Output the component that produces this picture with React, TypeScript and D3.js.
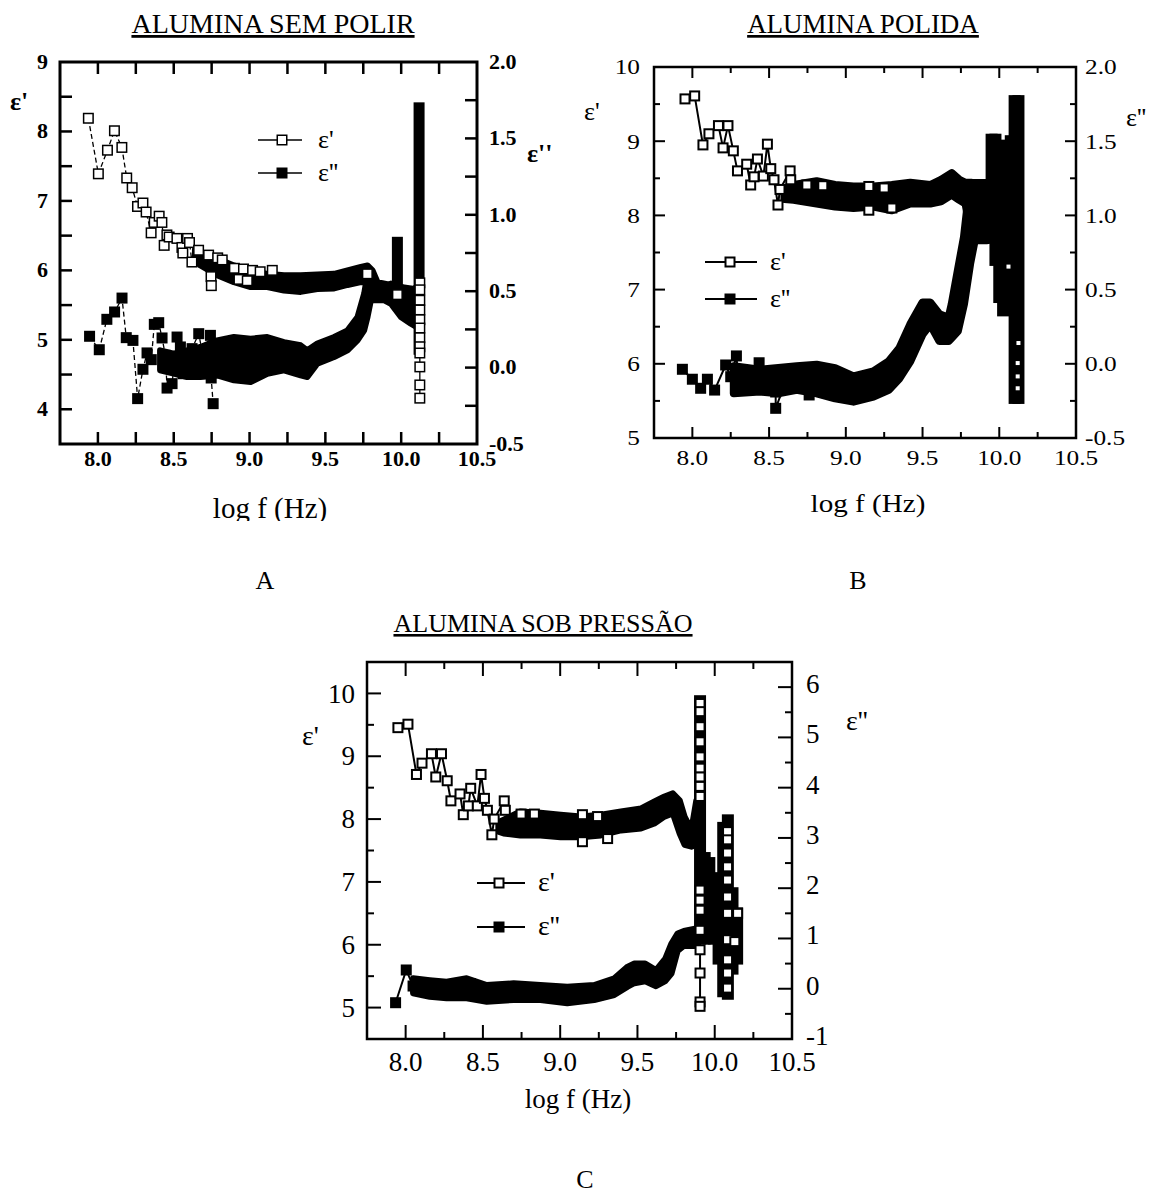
import React from "react";
import * as d3 from "d3";

type Pt = [number, number];
type Span = [number, number, number];

const FONT = "'Liberation Serif', 'Times New Roman', Times, serif";

// ---------------- shared axis values ----------------
const xTickValues = [8.0, 8.5, 9.0, 9.5, 10.0, 10.5];
const xTickLabels = ["8.0", "8.5", "9.0", "9.5", "10.0", "10.5"];

const A_leftValues = [4, 5, 6, 7, 8, 9];
const A_leftLabels = ["4", "5", "6", "7", "8", "9"];
const AB_rightValues = [-0.5, 0, 0.5, 1.0, 1.5, 2.0];
const AB_rightLabels = ["-0.5", "0.0", "0.5", "1.0", "1.5", "2.0"];
const BC_leftValues = [5, 6, 7, 8, 9, 10];
const BC_leftLabels = ["5", "6", "7", "8", "9", "10"];
const C_rightValues = [-1, 0, 1, 2, 3, 4, 5, 6];
const C_rightLabels = ["-1", "0", "1", "2", "3", "4", "5", "6"];

// ---------------- Panel A : ALUMINA SEM POLIR ----------------
const A_epsP_points: Pt[] = [
  [7.937, 8.19], [8.003, 7.39], [8.063, 7.73], [8.109, 8.01], [8.158, 7.77], [8.19, 7.33],
  [8.226, 7.19], [8.261, 6.92], [8.297, 6.97], [8.318, 6.84], [8.351, 6.54], [8.371, 6.69],
  [8.404, 6.78], [8.422, 6.69], [8.437, 6.36], [8.455, 6.51], [8.47, 6.48], [8.521, 6.46],
  [8.554, 6.33], [8.56, 6.25], [8.591, 6.46], [8.604, 6.4], [8.62, 6.12], [8.664, 6.29],
];
const A_epsP_scatter: Pt[] = [
  [8.73, 6.22], [8.746, 5.91], [8.748, 5.78], [8.79, 6.18], [8.82, 6.15], [8.9, 6.03],
  [8.93, 5.87], [8.96, 6.02], [8.985, 5.85], [9.02, 6.0], [9.07, 5.98], [9.15, 6.0],
  [9.777, 5.95], [9.975, 5.65],
];
const A_epsP_band: Span[] = [
  [8.64, 6.14, 6.3], [8.676, 6.07, 6.26], [8.786, 5.93, 6.17], [8.897, 5.83, 6.07],
  [9.007, 5.76, 6.0], [9.117, 5.76, 5.95], [9.227, 5.71, 5.93], [9.337, 5.69, 5.93],
  [9.447, 5.73, 5.94], [9.558, 5.74, 5.95], [9.646, 5.79, 6.0], [9.734, 5.83, 6.05],
  [9.778, 5.83, 6.07], [9.811, 5.74, 6.0], [9.844, 5.62, 5.83], [9.932, 5.6, 5.79],
  [9.998, 5.57, 5.76], [10.064, 5.5, 5.74], [10.1, 5.5, 5.72],
];
const A_epsP_column: Pt[] = [
  [10.123, 5.82], [10.123, 5.72], [10.123, 5.57], [10.123, 5.43], [10.123, 5.29],
  [10.123, 5.17], [10.123, 5.03], [10.123, 4.9], [10.123, 4.81], [10.123, 4.61],
  [10.123, 4.35], [10.123, 4.16],
];
const A_epsPP_points: Pt[] = [
  [7.945, 0.205], [8.009, 0.117], [8.059, 0.316], [8.11, 0.364], [8.159, 0.455], [8.187, 0.196],
  [8.231, 0.178], [8.262, -0.203], [8.297, -0.011], [8.324, 0.096], [8.352, 0.052], [8.372, 0.283],
  [8.401, 0.294], [8.423, 0.194], [8.445, 0.08], [8.456, -0.134], [8.489, -0.105], [8.522, 0.2],
  [8.544, 0.135], [8.562, -0.04], [8.621, 0.124], [8.665, 0.222], [8.698, 0.048], [8.742, 0.211],
  [8.747, -0.068], [8.76, -0.236],
];
const A_epsPP_scatter: Pt[] = [];
const A_epsPP_band: Span[] = [
  [8.41, -0.018, 0.113], [8.5, -0.04, 0.091], [8.588, -0.062, 0.113], [8.676, -0.062, 0.135],
  [8.786, -0.051, 0.178], [8.897, -0.083, 0.2], [9.007, -0.094, 0.189], [9.117, -0.04, 0.2],
  [9.227, -0.018, 0.167], [9.337, -0.051, 0.146], [9.381, -0.062, 0.113], [9.447, 0.026, 0.157],
  [9.558, 0.069, 0.2], [9.646, 0.113, 0.244], [9.712, 0.178, 0.331], [9.756, 0.244, 0.484],
  [9.778, 0.331, 0.615], [9.8, 0.44, 0.571], [9.888, 0.44, 0.527], [9.932, 0.418, 0.55],
  [9.998, 0.331, 0.527], [10.064, 0.287, 0.505], [10.1, 0.266, 0.527],
];
const A_epsPP_columns: Span[] = [
  [9.975, 0.55, 0.82], [10.118, 0.12, 1.7],
];

// ---------------- Panel B : ALUMINA POLIDA ----------------
const B_epsP_points: Pt[] = [
  [7.952, 9.57], [8.015, 9.61], [8.069, 8.95], [8.108, 9.1], [8.17, 9.21], [8.2, 8.91],
  [8.232, 9.21], [8.267, 8.87], [8.294, 8.6], [8.354, 8.69], [8.38, 8.41], [8.402, 8.52],
  [8.424, 8.76], [8.463, 8.53], [8.489, 8.96], [8.511, 8.63], [8.532, 8.48], [8.558, 8.14],
  [8.571, 8.35], [8.637, 8.6], [8.641, 8.48],
];
const B_epsP_scatter: Pt[] = [
  [8.746, 8.41], [8.85, 8.4], [9.15, 8.39], [9.15, 8.07], [9.25, 8.37], [9.3, 8.1],
];
const B_epsP_band: Span[] = [
  [8.6, 8.22, 8.36], [8.66, 8.21, 8.41], [8.81, 8.16, 8.46], [8.93, 8.12, 8.41],
  [9.05, 8.1, 8.39], [9.18, 8.12, 8.39], [9.3, 8.07, 8.41], [9.42, 8.16, 8.44],
  [9.55, 8.16, 8.41], [9.62, 8.19, 8.48], [9.69, 8.28, 8.57], [9.74, 8.21, 8.48],
  [9.78, 8.16, 8.44], [9.82, 7.71, 8.44], [9.92, 7.67, 8.37],
];
const B_epsP_column: Pt[] = [
  [10.06, 7.31], [10.125, 6.28], [10.12, 6.01], [10.12, 5.83], [10.12, 5.67],
];
const B_epsPP_points: Pt[] = [
  [7.935, -0.037], [8.0, -0.104], [8.054, -0.165], [8.098, -0.104], [8.145, -0.177],
  [8.217, -0.008], [8.25, -0.087], [8.287, 0.053], [8.304, -0.165], [8.359, -0.098],
  [8.435, 0.007], [8.457, -0.154], [8.543, -0.19], [8.543, -0.3], [8.62, -0.087],
];
const B_epsPP_scatter: Pt[] = [[8.706, -0.064], [8.761, -0.21]];
const B_epsPP_band: Span[] = [
  [8.27, -0.199, -0.017], [8.44, -0.187, -0.04], [8.56, -0.199, -0.029], [8.68, -0.176, -0.017],
  [8.81, -0.199, -0.006], [8.93, -0.233, -0.029], [9.05, -0.255, -0.085], [9.18, -0.221, -0.051],
  [9.28, -0.176, 0.017], [9.35, -0.097, 0.107], [9.42, 0.017, 0.266], [9.5, 0.198, 0.413],
  [9.55, 0.266, 0.413], [9.61, 0.153, 0.334], [9.67, 0.153, 0.311], [9.69, 0.175, 0.402],
  [9.73, 0.221, 0.629], [9.77, 0.402, 0.855], [9.81, 0.674, 1.218], [9.84, 0.833, 1.218],
  [9.92, 0.833, 1.218],
];
const B_epsPP_columns: Span[] = [
  [9.95, 0.85, 1.51], [9.975, 0.7, 1.51], [10.0, 0.45, 1.47], [10.025, 0.36, 1.44],
  [10.05, 0.38, 1.42], [10.075, 0.45, 1.5], [10.1, -0.23, 1.77], [10.125, -0.23, 1.77],
];

// ---------------- Panel C : ALUMINA SOB PRESSÃO ----------------
const C_epsP_points: Pt[] = [
  [7.95, 9.455], [8.015, 9.51], [8.07, 8.71], [8.106, 8.89], [8.167, 9.04], [8.195, 8.67],
  [8.232, 9.04], [8.269, 8.61], [8.293, 8.29], [8.352, 8.4], [8.373, 8.07], [8.406, 8.21],
  [8.421, 8.49], [8.464, 8.21], [8.488, 8.71], [8.51, 8.33], [8.529, 8.14], [8.558, 7.75],
  [8.573, 8.0], [8.638, 8.29], [8.645, 8.14],
];
const C_epsP_scatter: Pt[] = [
  [8.747, 8.08], [8.833, 8.08], [9.144, 8.07], [9.144, 7.64], [9.242, 8.04], [9.307, 7.69],
];
const C_epsP_band: Span[] = [
  [8.6, 7.8, 7.95], [8.634, 7.77, 7.99], [8.742, 7.74, 8.12], [8.872, 7.74, 8.1],
  [9.003, 7.71, 8.07], [9.133, 7.71, 8.04], [9.263, 7.74, 8.07], [9.393, 7.82, 8.12],
  [9.523, 7.85, 8.17], [9.61, 7.93, 8.28], [9.675, 8.04, 8.36], [9.729, 8.09, 8.41],
  [9.773, 7.77, 8.3], [9.805, 7.59, 8.04], [9.849, 7.56, 7.83], [9.881, 7.59, 8.3],
];
const C_epsP_column: Pt[] = [
  [9.905, 9.84], [9.905, 9.71], [9.905, 9.47], [9.905, 9.23], [9.905, 8.99], [9.905, 8.81],
  [9.905, 8.67], [9.905, 8.52], [9.905, 8.36], [9.905, 6.87], [9.905, 6.71], [9.905, 6.55],
  [9.905, 6.23], [9.905, 5.92], [9.905, 5.55], [9.905, 5.09], [9.905, 5.02],
  [10.083, 7.8], [10.083, 7.67], [10.083, 7.46], [10.083, 7.24], [10.083, 7.03], [10.083, 6.76],
  [10.083, 6.5], [10.083, 6.08], [10.083, 5.76], [10.083, 5.55], [10.083, 5.31],
  [10.148, 6.5], [10.13, 6.05],
];
const C_epsPP_points: Pt[] = [[7.935, -0.278], [8.004, 0.373], [8.048, 0.054]];
const C_epsPP_scatter: Pt[] = [[8.11, 0.07], [8.22, 0.02], [8.42, 0.1]];
const C_epsPP_band: Span[] = [
  [8.048, -0.091, 0.207], [8.156, -0.159, 0.17], [8.265, -0.19, 0.14], [8.395, -0.19, 0.207],
  [8.525, -0.258, 0.074], [8.699, -0.224, 0.108], [8.872, -0.224, 0.074], [9.046, -0.29, 0.04],
  [9.22, -0.224, 0.074], [9.35, -0.125, 0.207], [9.437, 0.04, 0.44], [9.48, 0.11, 0.5],
  [9.55, 0.15, 0.5], [9.62, 0.05, 0.37], [9.68, 0.15, 0.6], [9.72, 0.3, 0.9],
  [9.76, 0.75, 1.1], [9.8, 0.85, 1.15], [9.88, 0.85, 1.2],
];
const C_epsPP_columns: Span[] = [
  [9.905, 1.0, 5.72], [9.935, 1.0, 2.6], [9.965, 1.0, 2.5], [9.995, 1.0, 2.2],
  [10.025, 0.6, 1.9], [10.055, -0.05, 3.2], [10.085, -0.1, 3.35], [10.115, 0.4, 1.9],
  [10.145, 0.6, 1.5],
];

// ---------------- configuration ----------------
interface Cfg {
  id: string;
  l: number; r: number; t: number; b: number;
  yL: [number, number]; yR: [number, number];
  xTicks: number[]; yLTicks: number[]; yRTicks: number[];
  xMajStep: number; yLMajStep: number; yRMajStep: number;
  majLen: number; minLen: number;
  frameW: number; tickW: number;
  leftValues: number[]; leftLabels: string[];
  rightValues: number[]; rightLabels: string[];
  labelSize: number; labelSx: number; labelWeight: string; rightShift: number;
  xLabelY: number; leftLabelX: number; rightLabelX: number;
  title: string; titleX: number; titleY: number; titleSize: number;
  axisTitleX: number; axisTitleY: number; axisTitleSize: number; axisTitleSx: number; clipY?: number;
  e1X: number; e1Y: number; e2X: number; e2Y: number; eSize: number; eWeight: string;
  leg: { x1: number; x2: number; sq: number; tx: number; y1: number; y2: number; size: number };
  letter: string; letterX: number; letterY: number;
  marker: number; markerStroke: number; colW: number; lineW: number; dash?: string; bandStroke: number;
  colMarker: number; colMarkerStroke: number;
  epsP: { points: Pt[]; scatter: Pt[]; band: Span[]; column: Pt[] };
  epsPP: { points: Pt[]; scatter: Pt[]; band: Span[]; columns: Span[] };
}

const cfgA: Cfg = {
  id: "A", l: 60, r: 477, t: 62, b: 444, yL: [3.5, 9], yR: [-0.5, 2.0],
  xTicks: d3.range(8, 10.4, 0.25), yLTicks: d3.range(4, 8.9, 0.5), yRTicks: d3.range(-0.25, 1.9, 0.25),
  xMajStep: 0.25, yLMajStep: 0.5, yRMajStep: 0.25, majLen: 12, minLen: 12, frameW: 3, tickW: 2.5,
  leftValues: A_leftValues, leftLabels: A_leftLabels, rightValues: AB_rightValues, rightLabels: AB_rightLabels,
  labelSize: 20, labelSx: 1.1, labelWeight: "bold", rightShift: 0.34, xLabelY: 466, leftLabelX: 48, rightLabelX: 489,
  title: "ALUMINA SEM POLIR", titleX: 273, titleY: 33, titleSize: 28,
  axisTitleX: 270, axisTitleY: 518, axisTitleSize: 29, axisTitleSx: 1.0, clipY: 521,
  e1X: 10, e1Y: 110, e2X: 527, e2Y: 162, eSize: 26, eWeight: "bold",
  leg: { x1: 258, x2: 302, sq: 282, tx: 318, y1: 140, y2: 173, size: 26 },
  letter: "A", letterX: 265, letterY: 589,
  marker: 11, markerStroke: 1.5, colW: 11, lineW: 1.3, dash: "5,3", bandStroke: 6, colMarker: 11, colMarkerStroke: 1.5,
  epsP: { points: A_epsP_points, scatter: A_epsP_scatter, band: A_epsP_band, column: A_epsP_column },
  epsPP: { points: A_epsPP_points, scatter: A_epsPP_scatter, band: A_epsPP_band, columns: A_epsPP_columns },
};

const cfgB: Cfg = {
  id: "B", l: 654, r: 1076, t: 67, b: 438, yL: [5, 10], yR: [-0.5, 2.0],
  xTicks: d3.range(8, 10.4, 0.25), yLTicks: d3.range(5.5, 9.9, 0.5), yRTicks: d3.range(-0.25, 1.9, 0.25),
  xMajStep: 0.5, yLMajStep: 1, yRMajStep: 0.5, majLen: 11, minLen: 6, frameW: 2.5, tickW: 2,
  leftValues: BC_leftValues, leftLabels: BC_leftLabels, rightValues: AB_rightValues, rightLabels: AB_rightLabels,
  labelSize: 22, labelSx: 1.15, labelWeight: "normal", rightShift: 0.34, xLabelY: 465, leftLabelX: 640, rightLabelX: 1085,
  title: "ALUMINA POLIDA", titleX: 863, titleY: 33, titleSize: 27,
  axisTitleX: 868, axisTitleY: 512, axisTitleSize: 26, axisTitleSx: 1.12,
  e1X: 584, e1Y: 120, e2X: 1126, e2Y: 126, eSize: 26, eWeight: "normal",
  leg: { x1: 705, x2: 757, sq: 730, tx: 770, y1: 262, y2: 299, size: 26 },
  letter: "B", letterX: 858, letterY: 589,
  marker: 11, markerStroke: 2, colW: 12, lineW: 2, bandStroke: 8, colMarker: 4, colMarkerStroke: 0,
  epsP: { points: B_epsP_points, scatter: B_epsP_scatter, band: B_epsP_band, column: B_epsP_column },
  epsPP: { points: B_epsPP_points, scatter: B_epsPP_scatter, band: B_epsPP_band, columns: B_epsPP_columns },
};

const cfgC: Cfg = {
  id: "C", l: 367, r: 792, t: 662, b: 1039, yL: [4.5, 10.5], yR: [-1, 6.5],
  xTicks: d3.range(8, 10.4, 0.25), yLTicks: d3.range(5, 10.1, 0.5), yRTicks: d3.range(-0.5, 6.1, 0.5),
  xMajStep: 0.5, yLMajStep: 1, yRMajStep: 1, majLen: 14, minLen: 7, frameW: 2.5, tickW: 2,
  leftValues: BC_leftValues, leftLabels: BC_leftLabels, rightValues: C_rightValues, rightLabels: C_rightLabels,
  labelSize: 27, labelSx: 1.0, labelWeight: "normal", rightShift: 0.22, xLabelY: 1071, leftLabelX: 355, rightLabelX: 806,
  title: "ALUMINA SOB PRESSÃO", titleX: 543, titleY: 632, titleSize: 26,
  axisTitleX: 578, axisTitleY: 1108, axisTitleSize: 27, axisTitleSx: 1.0,
  e1X: 302, e1Y: 745, e2X: 846, e2Y: 730, eSize: 28, eWeight: "normal",
  leg: { x1: 477, x2: 525, sq: 499, tx: 538, y1: 883, y2: 927, size: 28 },
  letter: "C", letterX: 585, letterY: 1188,
  marker: 11, markerStroke: 2, colW: 12, lineW: 2, bandStroke: 6, colMarker: 11, colMarkerStroke: 2,
  epsP: { points: C_epsP_points, scatter: C_epsP_scatter, band: C_epsP_band, column: C_epsP_column },
  epsPP: { points: C_epsPP_points, scatter: C_epsPP_scatter, band: C_epsPP_band, columns: C_epsPP_columns },
};

// ---------------- components ----------------
function Txt(p: {
  x: number; y: number; size: number; anchor?: string; sx?: number; weight?: string;
  deco?: string; children: React.ReactNode;
}) {
  return (
    <text
      transform={`translate(${p.x},${p.y}) scale(${p.sx ?? 1},1)`}
      fontSize={p.size}
      fontFamily={FONT}
      fontWeight={p.weight ?? "normal"}
      textAnchor={p.anchor ?? "start"}
      textDecoration={p.deco}
      fill="#000"
    >
      {p.children}
    </text>
  );
}

const isMajor = (v: number, step: number) => Math.abs(v / step - Math.round(v / step)) < 1e-6;

function Panel({ c }: { c: Cfg }) {
  const x = d3.scaleLinear().domain([7.75, 10.5]).range([c.l, c.r]);
  const yL = d3.scaleLinear().domain(c.yL).range([c.b, c.t]);
  const yR = d3.scaleLinear().domain(c.yR).range([c.b, c.t]);
  const s = c.marker;

  const areaL = d3.area<Span>().x((d) => x(d[0])).y0((d) => yL(d[1])).y1((d) => yL(d[2]));
  const areaR = d3.area<Span>().x((d) => x(d[0])).y0((d) => yR(d[1])).y1((d) => yR(d[2]));
  const lineL = d3.line<Pt>().x((d) => x(d[0])).y((d) => yL(d[1]));
  const lineR = d3.line<Pt>().x((d) => x(d[0])).y((d) => yR(d[1]));
  const colGroups = Array.from(d3.group(c.epsP.column, (d) => d[0]).values());

  const sq = (px: number, py: number, size: number, key: string, filled: boolean, sw: number) => (
    <rect key={key} x={px - size / 2} y={py - size / 2} width={size} height={size}
      fill={filled ? "#000" : "#fff"} stroke={sw > 0 ? "#000" : "none"} strokeWidth={sw} />
  );

  const tickLen = (v: number, step: number) => (isMajor(v, step) ? c.majLen : c.minLen);
  const clipId = c.clipY ? `clip${c.id}` : undefined;

  return (
    <g>
      {clipId && (
        <defs>
          <clipPath id={clipId} clipPathUnits="userSpaceOnUse">
            <rect x={0} y={0} width={1158} height={c.clipY} />
          </clipPath>
        </defs>
      )}
      {/* dense bands */}
      <path d={areaL(c.epsP.band) ?? ""} fill="#000" stroke="#000" strokeWidth={c.bandStroke} strokeLinejoin="round" />
      <path d={areaR(c.epsPP.band) ?? ""} fill="#000" stroke="#000" strokeWidth={c.bandStroke} strokeLinejoin="round" />
      {c.epsPP.columns.map((d, i) => (
        <rect key={`pc${i}`} x={x(d[0]) - c.colW / 2} y={yR(d[2]) - c.colW / 2}
          width={c.colW} height={yR(d[1]) - yR(d[2]) + c.colW} fill="#000" />
      ))}
      {/* connecting lines */}
      <path d={lineL(c.epsP.points) ?? ""} fill="none" stroke="#000" strokeWidth={c.lineW} strokeDasharray={c.dash} />
      <path d={lineR(c.epsPP.points) ?? ""} fill="none" stroke="#000" strokeWidth={c.lineW} strokeDasharray={c.dash} />
      {colGroups.map((g, i) => (
        <path key={`cg${i}`} d={lineL(g) ?? ""} fill="none" stroke="#000" strokeWidth={c.lineW} />
      ))}
      {/* filled squares */}
      {c.epsPP.points.map((d, i) => sq(x(d[0]), yR(d[1]), s, `fp${i}`, true, 0))}
      {c.epsPP.scatter.map((d, i) => sq(x(d[0]), yR(d[1]), s, `fs${i}`, true, 0))}
      {/* open squares */}
      {c.epsP.points.map((d, i) => sq(x(d[0]), yL(d[1]), s - c.markerStroke, `op${i}`, false, c.markerStroke))}
      {c.epsP.scatter.map((d, i) => sq(x(d[0]), yL(d[1]), s - c.markerStroke, `os${i}`, false, c.markerStroke))}
      {c.epsP.column.map((d, i) =>
        sq(x(d[0]), yL(d[1]), c.colMarker - c.colMarkerStroke, `oc${i}`, false, c.colMarkerStroke))}

      {/* frame */}
      <rect x={c.l} y={c.t} width={c.r - c.l} height={c.b - c.t} fill="none" stroke="#000" strokeWidth={c.frameW} />
      {/* ticks */}
      <g stroke="#000" strokeWidth={c.tickW}>
        {c.xTicks.map((v, i) => (
          <g key={`xt${i}`}>
            <line x1={x(v)} x2={x(v)} y1={c.b} y2={c.b - tickLen(v, c.xMajStep)} />
            <line x1={x(v)} x2={x(v)} y1={c.t} y2={c.t + tickLen(v, c.xMajStep)} />
          </g>
        ))}
        {c.yLTicks.map((v, i) => (
          <line key={`yl${i}`} x1={c.l} x2={c.l + tickLen(v, c.yLMajStep)} y1={yL(v)} y2={yL(v)} />
        ))}
        {c.yRTicks.map((v, i) => (
          <line key={`yr${i}`} x1={c.r} x2={c.r - tickLen(v, c.yRMajStep)} y1={yR(v)} y2={yR(v)} />
        ))}
      </g>
      {/* tick labels */}
      {xTickValues.map((v, i) => (
        <Txt key={`xl${i}`} x={x(v)} y={c.xLabelY} size={c.labelSize} anchor="middle" sx={c.labelSx} weight={c.labelWeight}>
          {xTickLabels[i]}
        </Txt>
      ))}
      {c.leftValues.map((v, i) => (
        <Txt key={`ll${i}`} x={c.leftLabelX} y={yL(v) + c.labelSize * 0.34} size={c.labelSize} anchor="end" sx={c.labelSx} weight={c.labelWeight}>
          {c.leftLabels[i]}
        </Txt>
      ))}
      {c.rightValues.map((v, i) => (
        <Txt key={`rl${i}`} x={c.rightLabelX} y={yR(v) + c.labelSize * c.rightShift} size={c.labelSize} anchor="start" sx={c.labelSx} weight={c.labelWeight}>
          {c.rightLabels[i]}
        </Txt>
      ))}
      {/* titles */}
      <Txt x={c.titleX} y={c.titleY} size={c.titleSize} anchor="middle" deco="underline">{c.title}</Txt>
      <g clipPath={clipId ? `url(#${clipId})` : undefined}>
        <Txt x={c.axisTitleX} y={c.axisTitleY} size={c.axisTitleSize} anchor="middle" sx={c.axisTitleSx}>
          log f (Hz)
        </Txt>
      </g>
      <Txt x={c.e1X} y={c.e1Y} size={c.eSize} weight={c.eWeight}>ε'</Txt>
      <Txt x={c.e2X} y={c.e2Y} size={c.eSize} weight={c.eWeight}>ε''</Txt>
      {/* legend */}
      <g>
        <line x1={c.leg.x1} x2={c.leg.x2} y1={c.leg.y1} y2={c.leg.y1} stroke="#000" strokeWidth={c.lineW} />
        {sq(c.leg.sq, c.leg.y1, s - c.markerStroke, "lg1", false, c.markerStroke)}
        <Txt x={c.leg.tx} y={c.leg.y1 + c.leg.size * 0.3} size={c.leg.size}>ε'</Txt>
        <line x1={c.leg.x1} x2={c.leg.x2} y1={c.leg.y2} y2={c.leg.y2} stroke="#000" strokeWidth={c.lineW} />
        {sq(c.leg.sq, c.leg.y2, s, "lg2", true, 0)}
        <Txt x={c.leg.tx} y={c.leg.y2 + c.leg.size * 0.3} size={c.leg.size}>ε''</Txt>
      </g>
      <Txt x={c.letterX} y={c.letterY} size={26} anchor="middle">{c.letter}</Txt>
    </g>
  );
}

export default function App() {
  return (
    <div style={{ position: "absolute", left: 0, top: 0, width: 1158, height: 1193, background: "#fff" }}>
      <svg width={1158} height={1193} viewBox="0 0 1158 1193" style={{ display: "block" }}>
        <rect x={0} y={0} width={1158} height={1193} fill="#fff" />
        <Panel c={cfgA} />
        <Panel c={cfgB} />
        <Panel c={cfgC} />
      </svg>
    </div>
  );
}
